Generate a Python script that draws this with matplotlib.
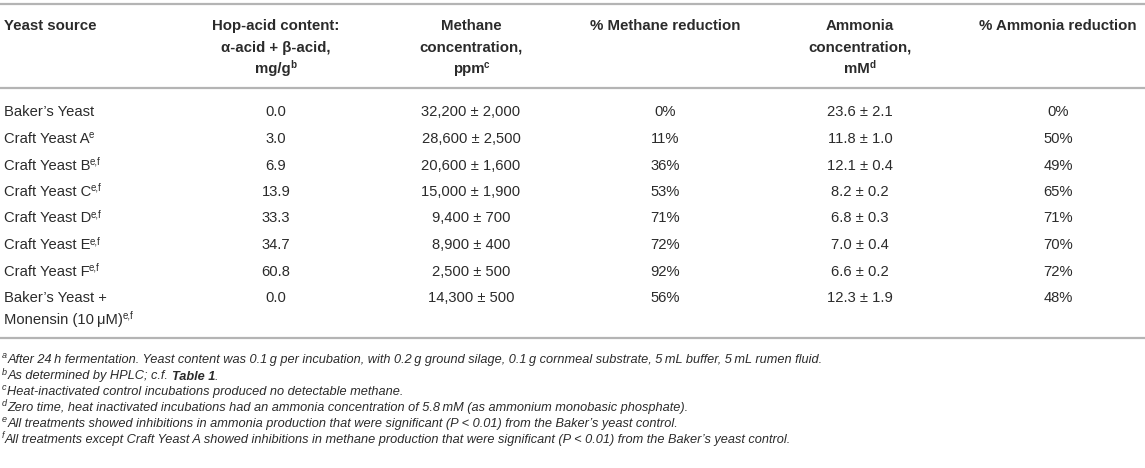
import matplotlib
matplotlib.use('Agg')
import matplotlib.pyplot as plt

W, H = 1145, 468
FONT = 'Liberation Sans'
INK = '#2b2b2b'
RULE = '#b4b4b4'

# ── table data ──────────────────────────────────────────────
headers = [
    ['Yeast source'],
    ['Hop-acid content:', 'α-acid + β-acid,', 'mg/g'],
    ['Methane', 'concentration,', 'ppm'],
    ['% Methane reduction'],
    ['Ammonia', 'concentration,', 'mM'],
    ['% Ammonia reduction'],
]
header_sup = ['', 'b', 'c', '', 'd', '']

sources = ['Baker’s Yeast', 'Craft Yeast A', 'Craft Yeast B', 'Craft Yeast C',
           'Craft Yeast D', 'Craft Yeast E', 'Craft Yeast F', 'Baker’s Yeast +']
source_line2 = ['', '', '', '', '', '', '', 'Monensin (10\u2009μM)']
source_sup = ['', 'e', 'e,f', 'e,f', 'e,f', 'e,f', 'e,f', 'e,f']

hop_acid = [0.0, 3.0, 6.9, 13.9, 33.3, 34.7, 60.8, 0.0]
methane = [32200, 28600, 20600, 15000, 9400, 8900, 2500, 14300]
methane_sd = [2000, 2500, 1600, 1900, 700, 400, 500, 500]
methane_red = [0, 11, 36, 53, 71, 72, 92, 56]
ammonia = [23.6, 11.8, 12.1, 8.2, 6.8, 7.0, 6.6, 12.3]
ammonia_sd = [2.1, 1.0, 0.4, 0.2, 0.3, 0.4, 0.2, 1.9]
ammonia_red = [0, 50, 49, 65, 71, 70, 72, 48]

notes_letter = ['a', 'b', 'c', 'd', 'e', 'f']
notes = [
    'After 24\u2009h fermentation. Yeast content was 0.1\u2009g per incubation, with 0.2\u2009g '
    'ground silage, 0.1\u2009g cornmeal substrate, 5\u2009mL buffer, 5\u2009mL rumen fluid.',
    'As determined by HPLC; c.f.',
    'Heat-inactivated control incubations produced no detectable methane.',
    'Zero time, heat inactivated incubations had an ammonia concentration of 5.8\u2009mM '
    '(as ammonium monobasic phosphate).',
    'All treatments showed inhibitions in ammonia production that were significant '
    '(P < 0.01) from the Baker’s yeast control.',
    'All treatments except Craft Yeast A showed inhibitions in methane production that were '
    'significant (P < 0.01) from the Baker’s yeast control.',
]

# ── layout (pixels) ─────────────────────────────────────────
col_x = [4, 276, 471, 665, 860, 1058]
head_base = [30, 52, 73]
row_base = [116.5, 143, 169.5, 196, 222.5, 249, 275.5, 301.5]
line2_gap = 22.5
note_base = [363, 379.5, 395, 411, 427, 442.5]
rules = [4, 88, 338]

BODY = 10.6
HEAD = 10.8
NOTE = 9.2

fig = plt.figure(figsize=(W / 100, H / 100), dpi=100)
ax = fig.add_axes([0, 0, 1, 1])
ax.set_xlim(0, W)
ax.set_ylim(H, 0)
ax.axis('off')
renderer = fig.canvas.get_renderer()


def runs(x, y, parts, ha='left'):
    # parts: (text, size, weight, style, raise_px, gap_before_px)
    objs = []
    for s, size, weight, style, up, gap in parts:
        t = ax.text(0, y - up, s, fontsize=size, fontweight=weight, fontstyle=style,
                    family=FONT, color=INK, va='baseline', ha='left')
        objs.append((t, gap))
    widths = [t.get_window_extent(renderer).width for t, _ in objs]
    total = sum(widths) + sum(g for _, g in objs)
    cur = x - total / 2 if ha == 'center' else x
    for (t, gap), w in zip(objs, widths):
        cur += gap
        t.set_x(cur)
        cur += w


def with_sup(x, y, s, sup, size, weight='normal', style='normal', ha='left', sup_up=5.0):
    parts = [(s, size, weight, style, 0, 0)]
    if sup:
        parts.append((sup, size * 0.66, weight, style, sup_up, -0.6))
    runs(x, y, parts, ha=ha)


for y in rules:
    ax.axhline(y, color=RULE, lw=1.6)

# header
for c, lines in enumerate(headers):
    ha = 'left' if c == 0 else 'center'
    for i, s in enumerate(lines):
        sup = header_sup[c] if i == len(lines) - 1 else ''
        with_sup(col_x[c], head_base[i], s, sup, HEAD, weight='bold', ha=ha)

# body
for r in range(len(sources)):
    y = row_base[r]
    if source_line2[r]:
        with_sup(col_x[0], y, sources[r], '', BODY)
        with_sup(col_x[0], y + line2_gap, source_line2[r], source_sup[r], BODY)
    else:
        with_sup(col_x[0], y, sources[r], source_sup[r], BODY)
    cells = [f'{hop_acid[r]:.1f}',
             f'{methane[r]:,} ± {methane_sd[r]:,}',
             f'{methane_red[r]}%',
             f'{ammonia[r]:.1f} ± {ammonia_sd[r]:.1f}',
             f'{ammonia_red[r]}%']
    for c, s in enumerate(cells, start=1):
        ax.text(col_x[c], y, s, fontsize=BODY, family=FONT, color=INK,
                ha='center', va='baseline')

# footnotes
for i, (let, s) in enumerate(zip(notes_letter, notes)):
    y = note_base[i]
    parts = [(let, NOTE * 0.7, 'normal', 'italic', 4.5, 0),
             (s, NOTE, 'normal', 'italic', 0, 0.5)]
    if let == 'b':
        parts += [('Table 1', NOTE, 'bold', 'italic', 0, 3.2),
                  ('.', NOTE, 'normal', 'italic', 0, -0.5)]
    runs(2, y, parts)

fig.savefig('out.png', dpi=100)
